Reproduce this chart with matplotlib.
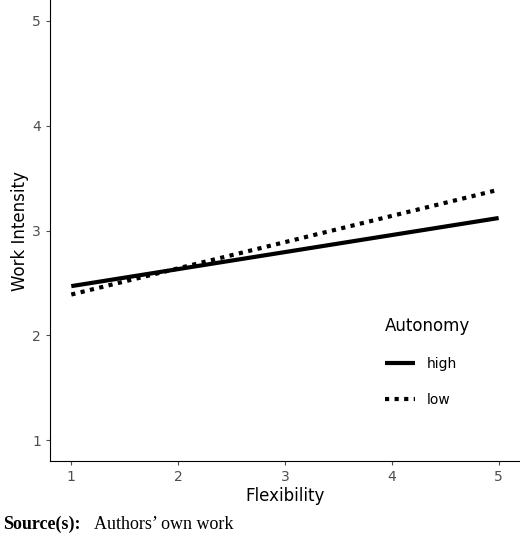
import matplotlib.pyplot as plt

flex = [1, 5]
high = [2.47, 3.12]
low = [2.39, 3.39]
xticks = [1, 2, 3, 4, 5]
yticks = [1, 2, 3, 4, 5]

fig = plt.figure(figsize=(5.2, 5.51), dpi=100)
ax = fig.add_axes([0.096, 0.163, 0.904, 0.837])
ax.plot(flex, high, color='black', lw=3, solid_capstyle='butt', label='high')
ax.plot(flex, low, color='black', lw=3, linestyle=(0, (1, 1.3)), label='low')
ax.set_xlim(0.8, 5.2)
ax.set_ylim(0.8, 5.2)
ax.set_xticks(xticks)
ax.set_yticks(yticks)
ax.tick_params(labelsize=10, colors='#4d4d4d', length=3)
for s in ['top', 'right']:
    ax.spines[s].set_visible(False)
ax.set_xlabel('Flexibility', fontsize=12, labelpad=2)
ax.set_ylabel('Work Intensity', fontsize=12, labelpad=2)
leg = ax.legend(title='Autonomy', loc='lower right', bbox_to_anchor=(0.92, 0.09),
                frameon=False, fontsize=10, title_fontsize=12, handlelength=2.2,
                labelspacing=1.6)
leg._legend_box.align = 'left'

fig.text(0.005, 0.04, 'Source(s):', fontsize=13, family='Liberation Serif', weight='bold')
fig.text(0.18, 0.04, 'Authors\u2019 own work', fontsize=13, family='Liberation Serif')

fig.savefig('out.png', dpi=100)
